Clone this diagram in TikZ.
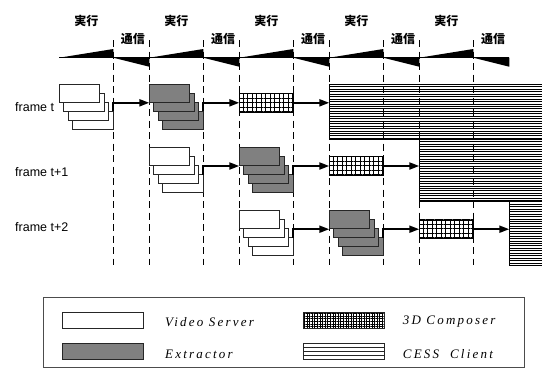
\documentclass[tikz,border=0pt]{standalone}
\usepackage{fontspec}
\setmainfont{Liberation Serif}
\setsansfont{Liberation Sans}
\newfontfamily\jpfont{Noto Sans CJK JP}
\newfontfamily\legfont[LetterSpace=17]{Liberation Serif}
\usetikzlibrary{arrows.meta,patterns.meta}
\tikzset{
  box/.style={draw=black!85,line width=0.7pt,minimum width=40.5pt,minimum height=18pt,inner sep=0pt,outer sep=0pt,anchor=north west},
  stackpic/.pic={
    \foreach \k in {4,3,2,1}{
      \node[box,fill=#1] (-b\k) at ({4.5*(\k-1)},{9*(\k-1)}) {};
    }
    \coordinate (-in) at (0,18.5);
  },
  comp/.style={draw=black,line width=0.7pt,minimum width=54pt,minimum height=18.5pt,inner sep=0pt,outer sep=0pt,
    pattern={Hatch[angle=0,distance=4.5pt,line width=0.6pt]}},
  hlines/.style n args={2}{path picture={
    \foreach \i in {1,...,#1}{
      \draw[line width=0.65pt] ([yshift=-\i*#2]path picture bounding box.north west) -- ([yshift=-\i*#2]path picture bounding box.north east);
    }}},
  cess/.style={draw=black,line width=0.7pt,inner sep=0pt,outer sep=0pt,anchor=north west,hlines={26}{2.45pt}},
  flow/.style={line width=2pt,-{Triangle[length=10pt,width=7pt]}},
  divline/.style={line width=0.8pt,dash pattern=on 7pt off 4.5pt},
  jp/.style={font=\jpfont\bfseries\fontsize{12}{12}\selectfont,inner sep=0pt},
  framelab/.style={font=\sffamily\fontsize{12.5}{12.5}\selectfont,anchor=west,inner sep=0pt},
  legtext/.style={font=\legfont\itshape\fontsize{13}{13}\selectfont,anchor=west,inner sep=0pt},
  legsample/.style={draw=black!85,line width=0.7pt,minimum width=81pt,minimum height=16pt,inner sep=0pt,anchor=north west},
}
\begin{document}
\begin{tikzpicture}[x=1pt,y=-1pt]
\useasboundingbox (0,0) rectangle (542,368);
% CESS client regions (clipped at the picture edge)
\begin{scope}
\clip (0,0) rectangle (542,368);
\node[cess,minimum width=240pt,minimum height=55pt] (cess1) at (329.3,84.3) {};
\node[cess,minimum width=150pt,minimum height=62.4pt] (cess2) at (419.3,139.3) {};
\node[cess,minimum width=60pt,minimum height=63.3pt] (cess3) at (509.3,201.7) {};
\end{scope}
% timeline
\draw[line width=0.8pt] (59.3,57.7) -- (509.3,57.7);
\foreach \a in {59.3,149.3,239.3,329.3,419.3}{
  \fill (\a,57.7) -- (\a+54,49) -- (\a+54,57.7) -- cycle;
  \fill (\a+54,57.7) -- (\a+90,66.7) -- (\a+90,57.7) -- cycle;
}
% labels
\foreach \a/\n in {86.3/1,176.3/2,266.3/3,356.3/4,446.3/5}{
  \node[jp] (exec\n) at (\a,20.7) {実行};
}
\foreach \a/\n in {133/1,223/2,313/3,403/4,493/5}{
  \node[jp] (comm\n) at (\a,39) {通信};
}
% dashed dividers
\foreach \x in {113.3,149.3,203.3,239.3,293.3,329.3,383.3,419.3,473.3}{
  \draw[divline] (\x,40) -- (\x,265);
}
% frame labels
\node[framelab] (ft0) at (15,107.3) {frame t};
\node[framelab] (ft1) at (15,171.7) {frame t+1};
\node[framelab] (ft2) at (15,227) {frame t+2};
% frame t
\pic (vs1) at (59.3,84.3) {stackpic=white};
\pic (ex1) at (149.3,84.3) {stackpic=gray};
\node[comp] (comp1) at (266.3,102.8) {};
% frame t+1
\pic (vs2) at (149.3,147.5) {stackpic=white};
\pic (ex2) at (239.3,147.5) {stackpic=gray};
\node[comp] (comp2) at (356.3,166) {};
% frame t+2
\pic (vs3) at (239.3,210.7) {stackpic=white};
\pic (ex3) at (329.3,210.7) {stackpic=gray};
\node[comp] (comp3) at (446.3,229.2) {};
% arrows
\draw[flow] (vs1-b4.north east) |- (ex1-in);
\draw[flow] (ex1-b4.north east) |- (comp1.west);
\draw[flow] (comp1.east) -- (comp1.east -| cess1.west);
\draw[flow] (vs2-b4.north east) |- (ex2-in);
\draw[flow] (ex2-b4.north east) |- (comp2.west);
\draw[flow] (comp2.east) -- (comp2.east -| cess2.west);
\draw[flow] (vs3-b4.north east) |- (ex3-in);
\draw[flow] (ex3-b4.north east) |- (comp3.west);
\draw[flow] (comp3.east) -- (comp3.east -| cess3.west);
% legend
\node[draw=black!70,line width=0.8pt,minimum width=481.6pt,minimum height=70pt,anchor=north west,inner sep=0pt] (legend) at (42.7,297.3) {};
\node[legsample,fill=white] (lvs) at (62.3,312.3) {};
\node[legsample,fill=gray] (lex) at (62.3,343.3) {};
\node[legsample,pattern={Hatch[angle=0,distance=2.6pt,line width=0.5pt]}] (lcomp) at (302.7,312.3) {};
\node[legsample,hlines={3}{4pt}] (lcess) at (302.7,343.3) {};
\node[legtext] (tvs) at (165,322) {Video Server};
\node[legtext] (tex) at (165,354) {Extractor};
\node[legtext] (tcomp) at (402.7,322) {3D Composer};
\node[legtext] (tcess) at (402.7,354) {CESS\ \ Client};
\end{tikzpicture}
\end{document}
